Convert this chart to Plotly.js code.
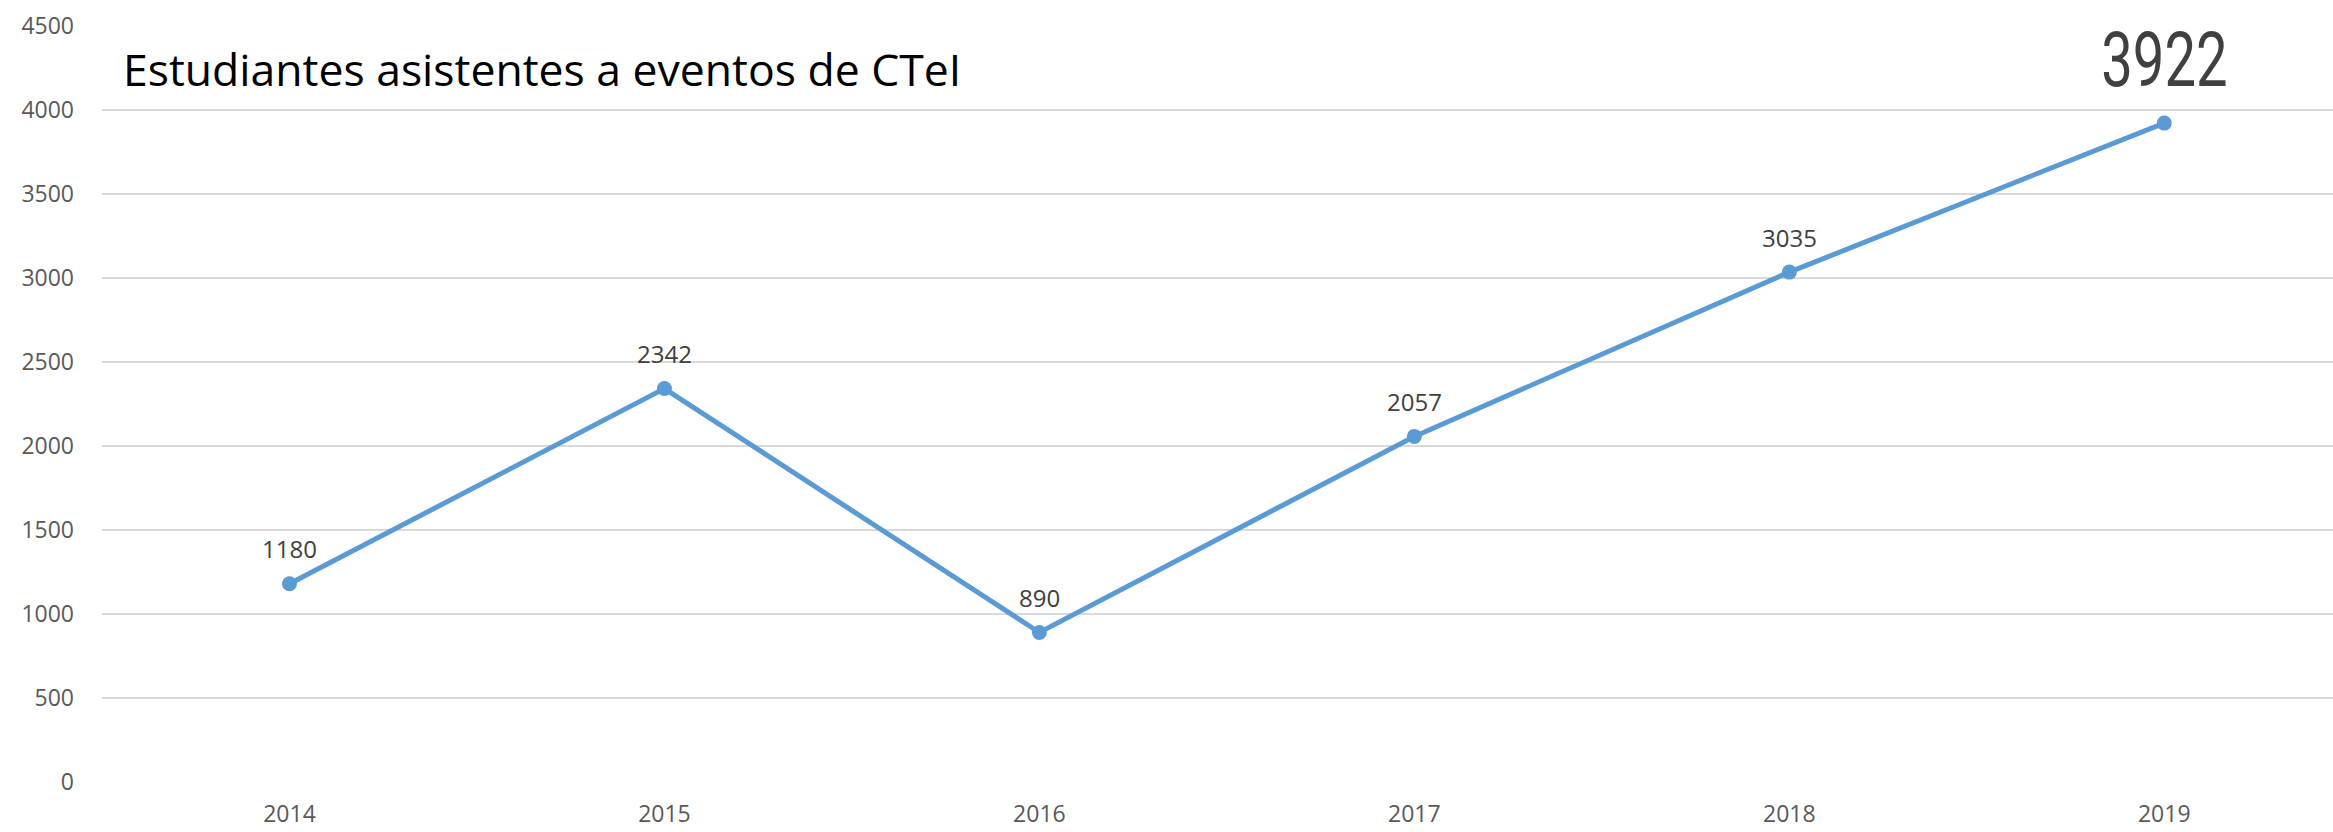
<!DOCTYPE html>
<html>
<head>
<meta charset="utf-8">
<script src="https://cdn.plot.ly/plotly-3.0.1.min.js"></script>
<style>
html,body{margin:0;padding:0;background:#fff;}
#chart{width:2333px;height:832px;}
.narrow-label{transform-box:fill-box;transform-origin:center;transform:scaleX(0.74);}
</style>
</head>
<body>
<div id="chart"></div>
<script>
const years = ["2014", "2015", "2016", "2017", "2018", "2019"];
const students = [1180, 2342, 890, 2057, 3035, 3922];
const yTicks = [0, 500, 1000, 1500, 2000, 2500, 3000, 3500, 4000, 4500];
const chartTitle = "Estudiantes asistentes a eventos de CTeI";

const lastIdx = students.length - 1;
const annotations = students.map((v, i) => {
  const isLast = i === lastIdx;
  return {
    x: i, y: v, xref: 'x', yref: 'y',
    text: String(v), showarrow: false,
    xanchor: 'center', yanchor: 'middle',
    yshift: isLast ? 63 : 35,
    font: isLast
      ? {family: 'Roboto', size: 76, color: '#404040'}
      : {family: 'Open Sans', size: 24, color: '#404040'}
  };
});

const trace = {
  x: years, y: students, type: 'scatter', mode: 'lines+markers',
  line: {color: '#5B9BD5', width: 5},
  marker: {color: '#5B9BD5', size: 15},
  hoverinfo: 'skip'
};

const layout = {
  width: 2333, height: 832,
  margin: {l: 102, r: 0, t: 26, b: 50, pad: 0},
  paper_bgcolor: '#ffffff', plot_bgcolor: '#ffffff',
  showlegend: false,
  title: {
    text: chartTitle, xref: 'container', yref: 'container',
    x: 123/2333, xanchor: 'left', y: 1 - 70/832, yanchor: 'middle',
    font: {family: 'Open Sans', size: 44.5, color: '#000000'}
  },
  xaxis: {
    type: 'category', range: [-0.5, 5.45],
    showgrid: false, zeroline: false, showline: false,
    ticks: '', ticklabelstandoff: 16,
    tickfont: {family: 'Open Sans', size: 23, color: '#595959'}
  },
  yaxis: {
    range: [0, 4500], tickvals: yTicks, ticktext: yTicks.map(String),
    showgrid: true, gridcolor: '#D9D9D9', gridwidth: 1.5,
    zeroline: false, showline: false, ticks: '', ticklabelstandoff: 27,
    tickfont: {family: 'Open Sans', size: 23, color: '#595959'}
  },
  annotations: annotations
};

Plotly.newPlot('chart', [trace], layout, {displayModeBar: false, staticPlot: true}).then(gd => {
  const texts = gd.querySelectorAll('.annotation .annotation-text');
  if (texts.length) texts[texts.length - 1].classList.add('narrow-label');
});
</script>
</body>
</html>
